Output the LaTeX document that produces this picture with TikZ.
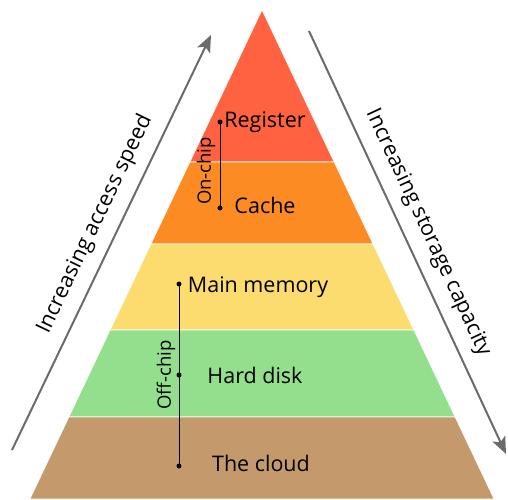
\documentclass[tikz,border=0pt]{standalone}
\usepackage{fontspec}
\setmainfont{Open Sans}
\usetikzlibrary{arrows.meta}

\definecolor{regred}{HTML}{FF6240}
\definecolor{cacheorange}{HTML}{FD8B23}
\definecolor{memyellow}{HTML}{FDDC6F}
\definecolor{diskgreen}{HTML}{94DF8E}
\definecolor{cloudbrown}{HTML}{C49A6C}
\definecolor{arrowgrey}{HTML}{6B6B6B}

\begin{document}
\begin{tikzpicture}[
        x=1pt, y=-1pt,
        band/.style={draw=white, line width=0.6pt},
        level label/.style={anchor=base, inner sep=0pt, font=\fontsize{21.5}{26}\selectfont},
        chip label/.style={rotate=90, inner sep=0pt, font=\fontsize{18.5}{22}\selectfont},
        side arrow/.style={draw=arrowgrey, line width=2pt, -{Stealth[length=17pt,width=14pt,inset=4pt]}},
        side label/.style={sloped, above=9pt, inner sep=2pt, font=\fontsize{21.5}{26}\selectfont},
        dot/.style={circle, fill, inner sep=0pt, minimum size=5pt}
    ]
    \useasboundingbox (0,0) rectangle (508,499);

    % the five levels, apex at (262,10)
    \foreach \ya/\yb/\col in {10/162/regred, 162/244/cacheorange, 244/330/memyellow, 330/417/diskgreen, 417/499/cloudbrown}
        \filldraw[band, fill=\col] ({262-(\ya-10)*0.4745},\ya) -- ({262+(\ya-10)*0.4745},\ya)
            -- ({262+(\yb-10)*0.4745},\yb) -- ({262-(\yb-10)*0.4745},\yb) -- cycle;

    % levels
    \node[level label] (register) at (265,127) {Register};
    \node[level label] (cache) at (265,213) {Cache};
    \node[level label] (mainmem) at (258,292) {Main memory};
    \node[level label] (harddisk) at (255,383) {Hard disk};
    \node[level label] (cloud) at (261,471) {The cloud};

    % on-chip / off-chip brackets
    \node[dot] (regdot) at (220,122) {};
    \node[dot] (cachedot) at (220,208) {};
    \node[dot] (memdot) at (179,284) {};
    \node[dot] (diskdot) at (179,375) {};
    \node[dot] (clouddot) at (179,466) {};
    \draw[line width=0.9pt] (regdot.center) -- (cachedot.center);
    \draw[line width=0.9pt] (memdot.center) -- (clouddot.center);
    \node[chip label] (onchip) at (206,171) {On-chip};
    \node[chip label] (offchip) at (166,375) {Off-chip};

    % side arrows
    \coordinate (speedtail) at (12,450);
    \coordinate (speedtip) at (211,35);
    \coordinate (captail) at (309,31);
    \coordinate (captip) at (506,454);
    \draw[side arrow] (speedtail) -- node[side label, pos=0.52] (speedlabel) {Increasing access speed} (speedtip);
    \draw[side arrow] (captail) -- node[side label, pos=0.5] (caplabel) {Increasing storage capacity} (captip);
\end{tikzpicture}
\end{document}
